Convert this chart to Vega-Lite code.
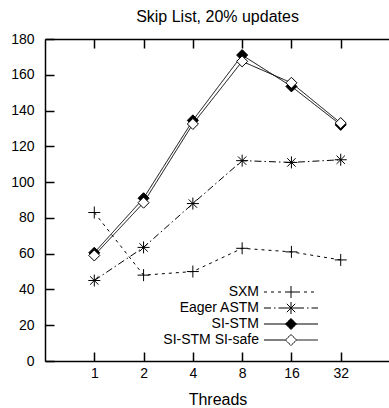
{
  "$schema": "https://vega.github.io/schema/vega-lite/v6.json",
  "width": 345,
  "height": 322,
  "autosize": {"type": "none"},
  "padding": {"left": 45, "top": 39, "right": 0, "bottom": 47},
  "title": {"text": "Skip List, 20% updates", "fontSize": 16, "font": "Liberation Sans", "fontWeight": "normal", "color": "black", "offset": 7},
  "config": {
    "font": "Liberation Sans",
    "view": {"stroke": null},
    "axis": {"domainColor": "black", "tickColor": "black", "labelColor": "black", "titleColor": "black", "grid": false, "labelFontSize": 14, "titleFontSize": 16, "titleFontWeight": "normal", "tickSize": -9, "domainWidth": 1.5, "tickWidth": 1.5, "labelFont": "Liberation Sans", "titleFont": "Liberation Sans", "labelOverlap": false},
    "legend": {"labelFont": "Liberation Sans", "labelColor": "black", "labelFontSize": 14}
  },
  "data": {"values": [
    {"series": "SXM", "threads": 1, "value": 83},
    {"series": "SXM", "threads": 2, "value": 48},
    {"series": "SXM", "threads": 4, "value": 50},
    {"series": "SXM", "threads": 8, "value": 63},
    {"series": "SXM", "threads": 16, "value": 61},
    {"series": "SXM", "threads": 32, "value": 56.5},
    {"series": "Eager ASTM", "threads": 1, "value": 45},
    {"series": "Eager ASTM", "threads": 2, "value": 63.5},
    {"series": "Eager ASTM", "threads": 4, "value": 88},
    {"series": "Eager ASTM", "threads": 8, "value": 112},
    {"series": "Eager ASTM", "threads": 16, "value": 111},
    {"series": "Eager ASTM", "threads": 32, "value": 112.5},
    {"series": "SI-STM", "threads": 1, "value": 60.5},
    {"series": "SI-STM", "threads": 2, "value": 91},
    {"series": "SI-STM", "threads": 4, "value": 134.5},
    {"series": "SI-STM", "threads": 8, "value": 171},
    {"series": "SI-STM", "threads": 16, "value": 153.5},
    {"series": "SI-STM", "threads": 32, "value": 132},
    {"series": "SI-STM SI-safe", "threads": 1, "value": 59},
    {"series": "SI-STM SI-safe", "threads": 2, "value": 88.5},
    {"series": "SI-STM SI-safe", "threads": 4, "value": 132.5},
    {"series": "SI-STM SI-safe", "threads": 8, "value": 167.5},
    {"series": "SI-STM SI-safe", "threads": 16, "value": 155.5},
    {"series": "SI-STM SI-safe", "threads": 32, "value": 133}
  ]},
  "layer": [
    {
      "mark": {"type": "line", "strokeWidth": 1, "color": "black"},
      "encoding": {
        "x": {"field": "threads", "type": "ordinal", "scale": {"type": "point", "padding": 1}, "axis": {"orient": "bottom", "title": "Threads", "labelAngle": 0, "labelPadding": 14, "titlePadding": 11}},
        "y": {"field": "value", "type": "quantitative", "scale": {"domain": [0, 180], "nice": false}, "axis": {"title": null, "values": [0, 20, 40, 60, 80, 100, 120, 140, 160, 180], "labelPadding": 20, "labelOverlap": false}},
        "strokeDash": {"field": "series", "type": "nominal", "sort": ["SXM", "Eager ASTM", "SI-STM", "SI-STM SI-safe"], "scale": {"range": [[3, 4], [7, 3, 1.5, 3], [1, 0], [1, 0]]}, "legend": {"title": null, "orient": "none", "legendX": 239, "legendY": 246, "padding": 0, "symbolSize": 144, "symbolStrokeColor": "black", "symbolStrokeWidth": 1, "labelAlign": "right", "labelOffset": -39, "rowPadding": 0,
          "encode": {"symbols": {"update": {
            "shape": {"signal": "datum.value === 'SXM' ? 'M-4.5,0L-1,0M1,0L4.5,0M-1,0L-0.5,0M-0.5,0L0,0M0,0L0.5,0M0.5,0L1,0M0,-1L0,-0.5M0,-0.5L0,0M0,0L0,0.5M0,0.5L0,1' : datum.value === 'Eager ASTM' ? 'M-4.5,0L-1,0M1,0L4.5,0M0,0L1,0M0,0L-1,0M0,0L0,1M0,0L0,-1M0,0L0.7,0.7M0,0L-0.7,-0.7M0,0L0.7,-0.7M0,0L-0.7,0.7' : datum.value === 'SI-STM' ? 'M-4.5,0L4.5,0M0,-0.92L0.92,0L0,0.92L-0.92,0Z' : 'M-4.5,0L-0.92,0M0.92,0L4.5,0M0,-0.92L0.92,0L0,0.92L-0.92,0Z'"},
            "fill": {"signal": "datum.value === 'SI-STM' ? 'black' : datum.value === 'SI-STM SI-safe' ? 'white' : 'transparent'"},
            "stroke": {"value": "black"},
            "strokeWidth": {"value": 1}
          }}}}}
      }
    },
    {
      "mark": {"type": "point", "filled": true, "stroke": "black", "strokeWidth": 1, "size": 144, "opacity": 1},
      "encoding": {
        "x": {"field": "threads", "type": "ordinal", "scale": {"type": "point", "padding": 1}, "axis": {"orient": "top", "title": null, "labels": false}},
        "y": {"field": "value", "type": "quantitative", "axis": {"title": null, "values": [0, 20, 40, 60, 80, 100, 120, 140, 160, 180], "labelPadding": 20, "labelOverlap": false}},
        "stroke": {"value": "black"},
        "shape": {"field": "series", "type": "nominal", "scale": {"domain": ["SXM", "Eager ASTM", "SI-STM", "SI-STM SI-safe"], "range": ["M-1,0L1,0M0,-1L0,1", "M-1,0L1,0M0,-1L0,1M-0.7,-0.7L0.7,0.7M-0.7,0.7L0.7,-0.7", "M0,-0.92L0.92,0L0,0.92L-0.92,0Z", "M0,-0.92L0.92,0L0,0.92L-0.92,0Z"]}, "legend": null},
        "fill": {"field": "series", "type": "nominal", "scale": {"domain": ["SXM", "Eager ASTM", "SI-STM", "SI-STM SI-safe"], "range": ["transparent", "transparent", "black", "white"]}, "legend": null}
      }
    }
  ],
  "resolve": {"axis": {"x": "independent"}}
}
